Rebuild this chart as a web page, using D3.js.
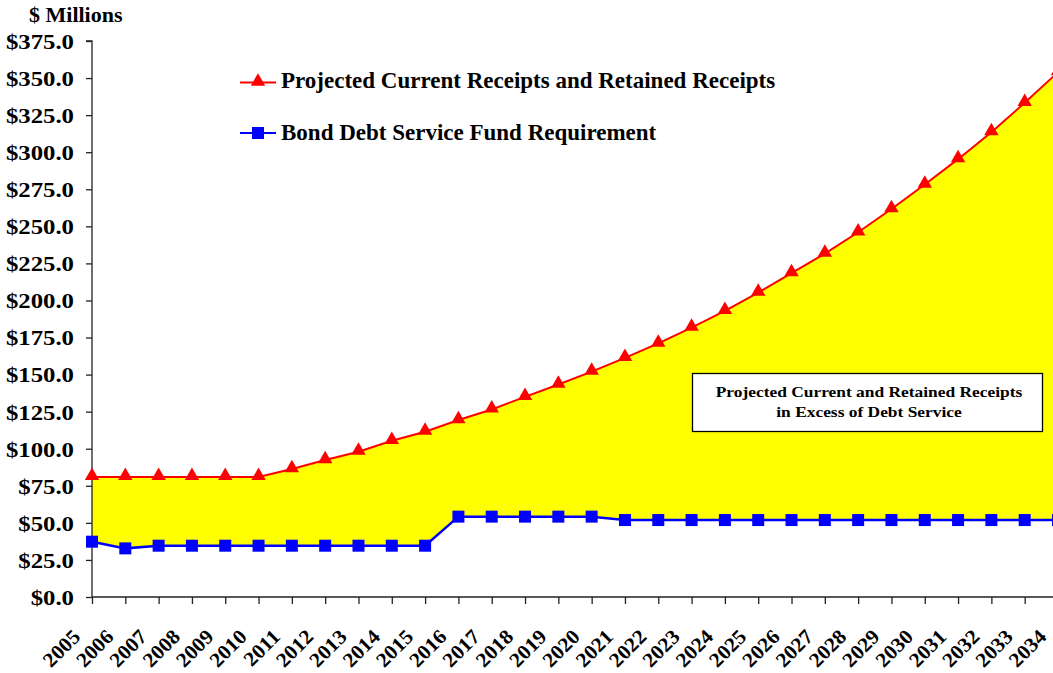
<!DOCTYPE html>
<html><head><meta charset="utf-8">
<script src="https://cdn.jsdelivr.net/npm/d3@7"></script>
<style>
html,body{margin:0;padding:0;background:#fff;}
svg{display:block;font-family:"Liberation Serif","Times New Roman",serif;font-weight:bold;}
</style></head>
<body><svg id="chart" width="1053" height="673"></svg>
<script>
const years = [2005,2006,2007,2008,2009,2010,2011,2012,2013,2014,2015,2016,2017,2018,2019,2020,2021,2022,2023,2024,2025,2026,2027,2028,2029,2030,2031,2032,2033,2034];
const receipts = [81,81,81,81,81,81,86.3,92.4,98,105.4,111.5,119.4,126.5,135,143.3,152,161.3,171,181.7,193,205.3,218.4,231.6,246,261.7,278.2,295.3,313.5,333.3,354];
const debtService = [37.3,32.8,34.6,34.6,34.6,34.6,34.6,34.6,34.6,34.6,34.6,54.2,54.2,54.2,54.2,54.2,51.9,51.9,51.9,51.9,51.9,51.9,51.9,51.9,51.9,51.9,51.9,51.9,51.9,51.9];
const yTicks = [0,25,50,75,100,125,150,175,200,225,250,275,300,325,350,375];
const seriesNames = ["Projected Current Receipts and Retained Receipts","Bond Debt Service Fund Requirement"];
const noteLines = ["Projected Current and Retained Receipts","in Excess of Debt Service"];
const unitLabel = "$ Millions";

const svg = d3.select("#chart");
const W = 1053, H = 673;
const x0 = 92, x1 = 1058, yTop = 41, yBot = 597;
const x = d3.scaleLinear().domain([years[0], years[years.length-1]]).range([x0, x1]);
const y = d3.scaleLinear().domain([0, 375]).range([yBot, yTop]);

const data = years.map((yr,i)=>({yr, r:receipts[i], d:debtService[i]}));

// fill area
svg.append("path").datum(data)
  .attr("fill","#FFFF00")
  .attr("d", d3.area().x(d=>x(d.yr)).y0(d=>y(d.d)).y1(d=>y(d.r)));

// axes
const yAxis = svg.append("g").attr("transform",`translate(${x0},0)`)
  .call(d3.axisLeft(y).tickValues(yTicks).tickSize(6).tickPadding(0).tickFormat(d=>"$"+d3.format(".1f")(d)));
yAxis.select(".domain").attr("stroke","#222").attr("stroke-width",1.3).attr("d",`M-6,${yTop}H0V${yBot}`);
yAxis.selectAll(".tick line").attr("stroke","#222").attr("stroke-width",1.3);
yAxis.selectAll(".tick text").remove();
yAxis.selectAll(".tick").append("g").attr("transform","translate(-18,0) scale(1.18,1)")
  .append("text").attr("text-anchor","end").attr("dy","0.35em")
  .attr("font-size",21).attr("font-family","Liberation Serif").attr("font-weight","bold").attr("fill","#000")
  .text(d=>"$"+d3.format(".1f")(d));

const xAxis = svg.append("g").attr("transform",`translate(0,${yBot})`)
  .call(d3.axisBottom(x).tickValues(years).tickSize(7).tickFormat(""));
xAxis.select(".domain").attr("stroke","#222").attr("stroke-width",1.3).attr("d",`M${x0},0H${W}`);
xAxis.selectAll(".tick line").attr("stroke","#222").attr("stroke-width",1.3);
xAxis.selectAll(".tick").append("text")
  .attr("transform","translate(-11,41) rotate(-45) scale(1.05,1)")
  .attr("text-anchor","end").attr("font-size",20.5).attr("fill","#000")
  .attr("font-family","Liberation Serif").attr("font-weight","bold")
  .text(d=>d);

// lines
const lineR = d3.line().x(d=>x(d.yr)).y(d=>y(d.r));
const lineD = d3.line().x(d=>x(d.yr)).y(d=>y(d.d));
svg.append("path").datum(data).attr("fill","none").attr("stroke","#FF0000").attr("stroke-width",2).attr("d",lineR);
svg.append("path").datum(data).attr("fill","none").attr("stroke","#0000FF").attr("stroke-width",2.5).attr("d",lineD);

const tri = d3.symbol().type(d3.symbolTriangle).size(90);
svg.append("g").selectAll("path").data(data).join("path")
  .attr("transform",d=>`translate(${x(d.yr)},${y(d.r)-1})`)
  .attr("d",tri).attr("fill","#FF0000");
svg.append("g").selectAll("rect").data(data).join("rect")
  .attr("x",d=>x(d.yr)-6).attr("y",d=>y(d.d)-6).attr("width",12).attr("height",12)
  .attr("fill","#0000FF");

// unit label
svg.append("text").attr("x",29).attr("y",22).attr("font-size",22).attr("fill","#000").text(unitLabel);

// legend
const leg = [{c:"#FF0000", t:"tri", y:82.5, ty:88},{c:"#0000FF", t:"sq", y:133, ty:140}];
leg.forEach((l,i)=>{
  svg.append("line").attr("x1",240).attr("x2",276).attr("y1",l.y).attr("y2",l.y).attr("stroke",l.c).attr("stroke-width",2);
  if(l.t==="tri") svg.append("path").attr("transform",`translate(258,${l.y-1})`).attr("d",tri).attr("fill",l.c);
  else svg.append("rect").attr("x",252).attr("y",l.y-6).attr("width",12).attr("height",12).attr("fill",l.c);
  svg.append("text").attr("x",281).attr("y",l.ty).attr("font-size",23).attr("fill","#000").text(seriesNames[i]);
});

// note box
svg.append("rect").attr("x",692.5).attr("y",373.5).attr("width",350).attr("height",58)
  .attr("fill","#fff").attr("stroke","#000").attr("stroke-width",1.3);
const noteG = svg.append("g").attr("transform","translate(869,0) scale(1.16,1)");
noteLines.forEach((t,i)=>{
  noteG.append("text").attr("x",0).attr("y",[397,417.5][i]).attr("text-anchor","middle")
    .attr("font-size",15).attr("fill","#000").text(t);
});
</script></body></html>
